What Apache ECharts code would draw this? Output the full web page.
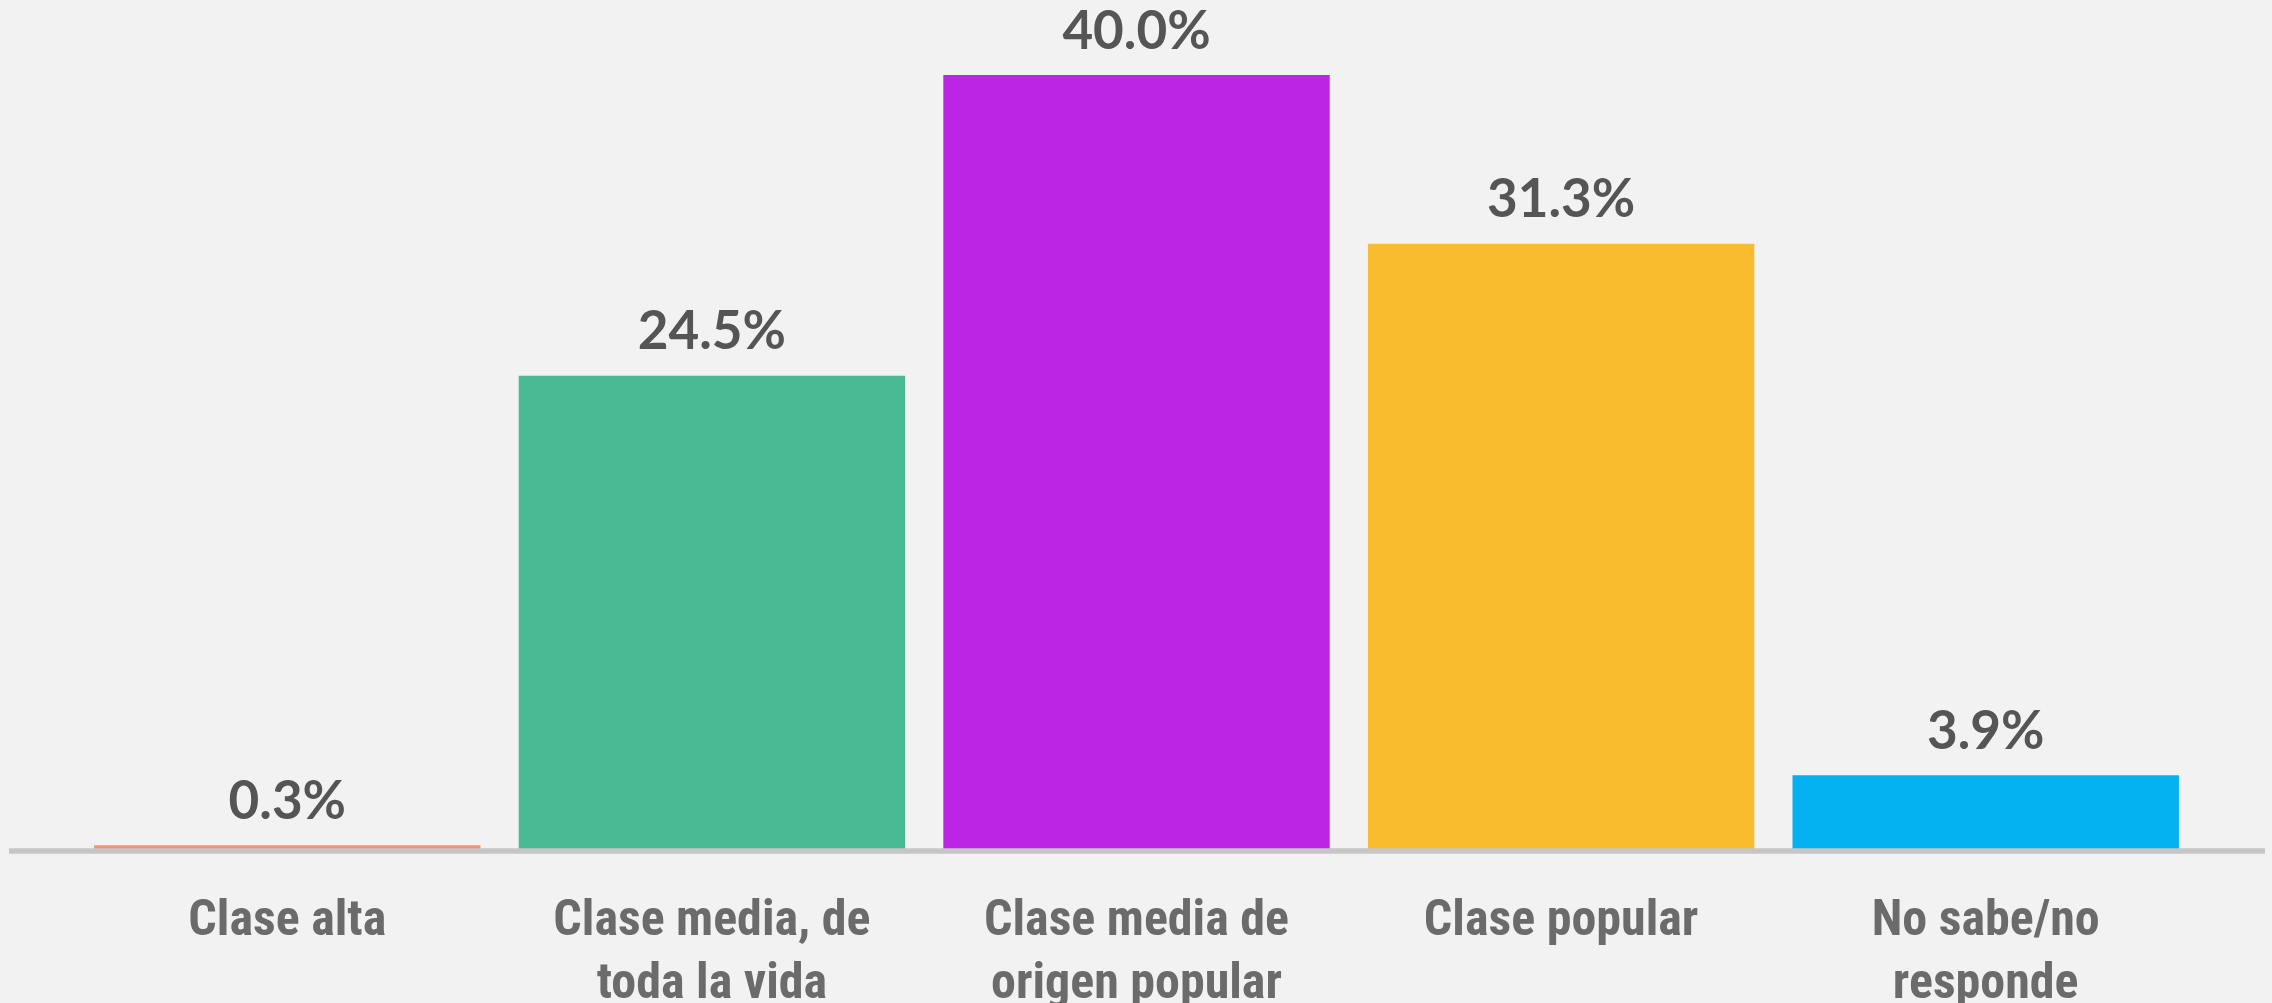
<!DOCTYPE html>
<html>
<head>
<meta charset="utf-8">
<script src="https://cdn.jsdelivr.net/npm/echarts@6/dist/echarts.min.js"></script>
<style>
html,body{margin:0;padding:0;background:#f2f2f2;}
#chart{width:2272px;height:1003px;}
</style>
</head>
<body>
<div id="chart"></div>
<script>
const categories = ["Clase alta", "Clase media, de\ntoda la vida", "Clase media de\norigen popular", "Clase popular", "No sabe/no\nresponde"];
const values = [0.3, 24.5, 40.0, 31.3, 3.9];
const barColors = ["#f8906f", "#4aba94", "#bb25e3", "#f8bc2e", "#03b0f0"];

const chart = echarts.init(document.getElementById('chart'), null, {renderer: 'canvas'});
chart.setOption({
  backgroundColor: '#f2f2f2',
  animation: false,
  grid: {left: 75, right: 74, top: 75, bottom: 152, containLabel: false, outerBoundsMode: 'none'},
  xAxis: {
    type: 'category',
    data: categories,
    axisLine: {show: false},
    axisTick: {show: false},
    axisLabel: {
      margin: 40,
      color: '#6b6b6b',
      fontFamily: '"Roboto Condensed", "Liberation Sans Narrow", sans-serif',
      fontWeight: 'bold',
      fontSize: 50,
      lineHeight: 63,
      interval: 0
    }
  },
  yAxis: {
    type: 'value',
    min: 0,
    max: 40,
    show: false,
    splitLine: {show: false}
  },
  series: [{
    type: 'bar',
    data: values.map((v, i) => ({value: v, itemStyle: {color: barColors[i]}})),
    barCategoryGap: '9%',
    label: {
      show: true,
      position: 'top',
      distance: 17,
      color: '#555555',
      fontFamily: 'Lato, sans-serif',
      fontWeight: 'bold',
      fontSize: 53,
      formatter: p => p.value.toFixed(1) + '%'
    }
  }],
  graphic: [{
    type: 'rect',
    z: 100,
    shape: {x: 9, y: 848.3, width: 2256, height: 5.5},
    style: {fill: '#c6c6c6'}
  }]
});
</script>
</body>
</html>
